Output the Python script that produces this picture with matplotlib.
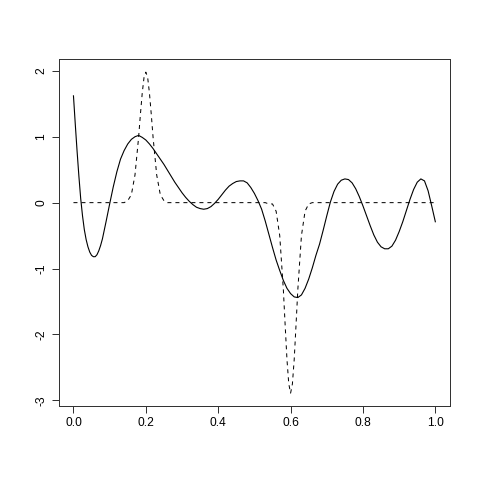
import numpy as np
import matplotlib
matplotlib.use("Agg")
import matplotlib.pyplot as plt

# solid curve (finer steps on the steep start)
x_fit = [0.0, 0.005, 0.01, 0.015, 0.02, 0.025, 0.03, 0.035, 0.04, 0.045,
         0.05, 0.055, 0.06, 0.065, 0.07, 0.075, 0.08, 0.09,
         0.10, 0.11, 0.12, 0.13, 0.14, 0.15, 0.16, 0.17, 0.18, 0.19,
         0.20, 0.21, 0.22, 0.23, 0.24, 0.25, 0.26, 0.27, 0.28, 0.29,
         0.30, 0.31, 0.32, 0.33, 0.34, 0.35, 0.36, 0.37, 0.38, 0.39,
         0.40, 0.41, 0.42, 0.43, 0.44, 0.45, 0.46, 0.47, 0.48, 0.49,
         0.50, 0.51, 0.52, 0.53, 0.54, 0.55, 0.56, 0.57, 0.58, 0.59,
         0.60, 0.61, 0.62, 0.63, 0.64, 0.65, 0.66, 0.67, 0.68, 0.69,
         0.70, 0.71, 0.72, 0.73, 0.74, 0.75, 0.76, 0.77, 0.78, 0.79,
         0.80, 0.81, 0.82, 0.83, 0.84, 0.85, 0.86, 0.87, 0.88, 0.89,
         0.90, 0.91, 0.92, 0.93, 0.94, 0.95, 0.96, 0.97, 0.98, 0.99,
         1.00]
y_fit = [1.62, 1.19, 0.78, 0.40, 0.06, -0.20, -0.41, -0.56, -0.67, -0.75,
         -0.80, -0.82, -0.82, -0.79, -0.73, -0.65, -0.55, -0.29,
         -0.02, 0.24, 0.47, 0.66, 0.79, 0.89, 0.96, 1.00, 1.02, 0.99,
         0.95, 0.89, 0.82, 0.74, 0.66, 0.58, 0.49, 0.40, 0.31, 0.23,
         0.15, 0.08, 0.02, -0.03, -0.07, -0.09, -0.10, -0.09, -0.06, -0.01,
         0.05, 0.12, 0.19, 0.25, 0.29, 0.32, 0.33, 0.33, 0.30, 0.23,
         0.14, 0.03, -0.10, -0.28, -0.48, -0.68, -0.87, -1.03, -1.18, -1.30,
         -1.38, -1.43, -1.44, -1.40, -1.30, -1.16, -0.99, -0.80, -0.63, -0.42,
         -0.20, 0.01, 0.17, 0.28, 0.34, 0.36, 0.35, 0.30, 0.21, 0.09,
         -0.05, -0.20, -0.35, -0.49, -0.60, -0.67, -0.70, -0.70, -0.66, -0.57,
         -0.44, -0.29, -0.12, 0.05, 0.20, 0.31, 0.36, 0.33, 0.18, -0.05,
         -0.29]

# dashed curve (true signal): flat with a spike at 0.2 and a dip at 0.6
x_true = [0.0, 0.10, 0.13, 0.14, 0.15, 0.16, 0.17, 0.18, 0.185, 0.19, 0.195,
          0.20, 0.205, 0.21, 0.215, 0.22, 0.23, 0.24, 0.25, 0.26, 0.27, 0.30,
          0.50, 0.53, 0.54, 0.55, 0.56, 0.57, 0.58, 0.585, 0.59, 0.595,
          0.60, 0.605, 0.61, 0.615, 0.62, 0.63, 0.64, 0.65, 0.66, 0.67, 0.70, 1.0]
y_true = [0.0, 0.0, 0.0, 0.0, 0.03, 0.12, 0.42, 0.99, 1.34, 1.66, 1.90,
          1.98, 1.90, 1.66, 1.34, 0.99, 0.42, 0.12, 0.03, 0.0, 0.0, 0.0,
          0.0, 0.0, -0.02, -0.02, -0.13, -0.50, -1.32, -1.86, -2.38, -2.75,
          -2.89, -2.75, -2.38, -1.86, -1.32, -0.50, -0.13, -0.02, 0.0, 0.0, 0.0, 0.0]

xticks = [0.0, 0.2, 0.4, 0.6, 0.8, 1.0]
xlabels = ["0.0", "0.2", "0.4", "0.6", "0.8", "1.0"]
yticks = [-3, -2, -1, 0, 1, 2]

plt.rcParams['font.family'] = ['Liberation Sans', 'DejaVu Sans']

fig = plt.figure(figsize=(4.8, 4.8), dpi=100)
ax = fig.add_axes([0.1229, 0.1542, 0.8142, 0.7223])

ax.plot(x_fit, y_fit, color="black", lw=0.8)
ax.plot(x_true, y_true, color="black", lw=0.72, dashes=(4, 4))

# R style 4% padding
allx = list(x_fit) + list(x_true)
ally = list(y_fit) + list(y_true)
dx = 0.04 * (max(allx) - min(allx))
dy = 0.04 * (max(ally) - min(ally))
ax.set_xlim(min(allx) - dx, max(allx) + dx)
ax.set_ylim(min(ally) - dy, max(ally) + dy)

ax.set_xticks(xticks)
ax.set_xticklabels(xlabels)
ax.set_yticks(yticks)
ax.set_yticklabels([str(v) for v in yticks], rotation=90, va="center")
ax.tick_params(length=5.2, width=0.72, labelsize=8.64, pad=3, color="#333333")
for s in ax.spines.values():
    s.set_linewidth(0.72)
    s.set_color("#333333")

fig.savefig("out.png", dpi=100)
